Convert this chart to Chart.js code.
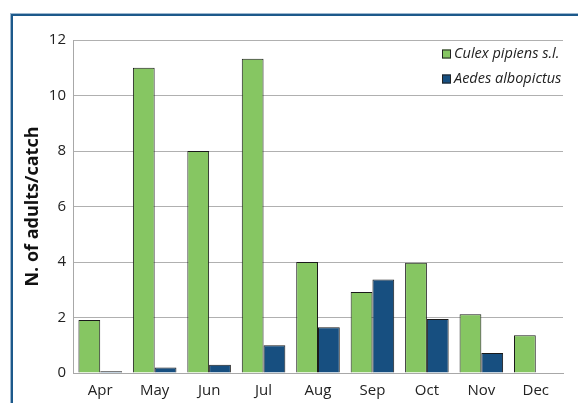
<!DOCTYPE html>
<html>
<head>
<meta charset="utf-8">
<script src="https://cdn.jsdelivr.net/npm/chart.js@4.4.0/dist/chart.umd.min.js"></script>
<style>
  html, body { margin: 0; padding: 0; background: #fff; }
  body { width: 578px; height: 403px; position: relative; overflow: hidden; }
  #frame {
    position: absolute; left: 11px; top: 14px; width: 620px; height: 450px;
    border-left: 2px solid #1c598b; border-top: 2px solid #1c598b;
    box-shadow: -1px -1px 0 #9db8d0;
  }
  #wrap { position: absolute; left: 0; top: 0; width: 578px; height: 403px; }
</style>
</head>
<body>
<div id="frame"></div>
<div id="wrap"><canvas id="chart" width="578" height="403"></canvas></div>
<script>
const months = ["Apr", "May", "Jun", "Jul", "Aug", "Sep", "Oct", "Nov", "Dec"];
const culex = [1.91, 11.0, 8.0, 11.32, 4.0, 2.92, 3.97, 2.12, 1.36];
const aedes = [0.06, 0.2, 0.3, 1.0, 1.65, 3.37, 1.95, 0.72, 0];
const yTicks = [0, 2, 4, 6, 8, 10, 12];

// small legend in the top right corner of the plot
const cornerLegend = {
  id: "cornerLegend",
  afterDraw(chart) {
    const ctx = chart.ctx;
    ctx.save();
    ctx.font = "italic 14.5px 'Open Sans'";
    ctx.textBaseline = "middle";
    chart.data.datasets.forEach((ds, i) => {
      const y = 54 + i * 25;
      const x = 442;
      ctx.fillStyle = ds.backgroundColor;
      ctx.fillRect(x, y - 4.5, 9, 9);
      ctx.strokeStyle = "#222";
      ctx.lineWidth = 1;
      ctx.strokeRect(x + 0.5, y - 4, 8, 8);
      ctx.fillStyle = "#222";
      ctx.fillText(ds.label, x + 12, y);
    });
    ctx.restore();
  }
};

new Chart(document.getElementById("chart"), {
  type: "bar",
  data: {
    labels: months,
    datasets: [
      {
        label: "Culex pipiens s.l.",
        data: culex,
        backgroundColor: "#86c662",
        borderColor: "#1a1a1a",
        borderWidth: 1,
      },
      {
        label: "Aedes albopictus",
        data: aedes,
        backgroundColor: "#174f80",
        borderColor: "#1a1a1a",
        borderWidth: 1,
      },
    ],
  },
  options: {
    responsive: false,
    animation: false,
    layout: { padding: { left: 0, top: 40, right: 15, bottom: 0 } },
    datasets: { bar: { categoryPercentage: 0.8, barPercentage: 1.0 } },
    plugins: {
      legend: { display: false },
      tooltip: { enabled: false },
    },
    scales: {
      x: {
        grid: { display: false },
        border: { display: true, color: "#a8a8a8" },
        ticks: { color: "#222", padding: 1, maxRotation: 0, font: { family: "Open Sans", size: 15 } },
        afterFit(scale) { scale.height = 30; },
      },
      y: {
        min: 0,
        max: 12,
        afterBuildTicks(scale) { scale.ticks = yTicks.map(v => ({ value: v })); },
        grid: { color: "#b0b0b0", drawTicks: false },
        border: { display: true, color: "#a8a8a8" },
        ticks: { color: "#222", padding: 7, font: { family: "Open Sans", size: 15 } },
        title: {
          display: true,
          text: "N. of adults/catch",
          color: "#111",
          padding: { top: 22, bottom: 0 },
          font: { family: "Open Sans", size: 18, weight: "bold" },
        },
        afterFit(scale) { scale.width = 73; },
      },
    },
  },
  plugins: [cornerLegend],
});
</script>
</body>
</html>
